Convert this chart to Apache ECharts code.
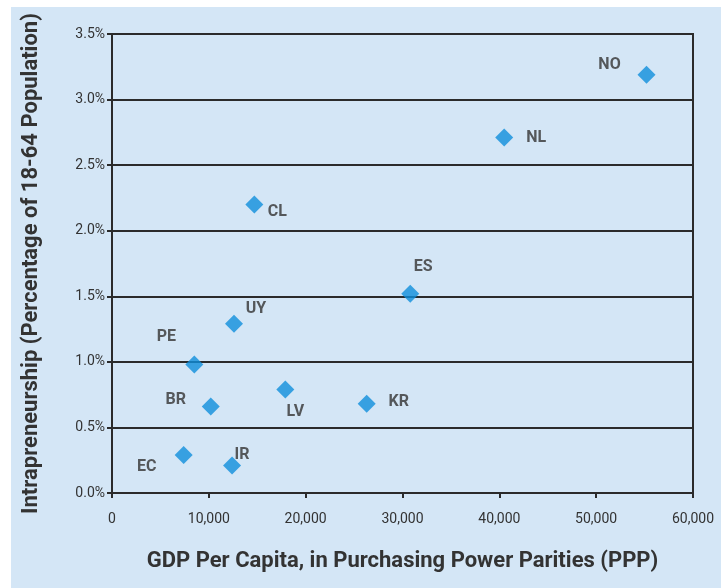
<!DOCTYPE html>
<html><head><meta charset="utf-8">
<script src="https://cdn.jsdelivr.net/npm/echarts@6/dist/echarts.min.js"></script>
<style>html,body{margin:0;padding:0;background:#fff}#bg{position:absolute;left:11px;top:7px;right:0;bottom:0;background:#d4e6f6}#c{position:absolute;left:0;top:0;width:721px;height:588px}</style>
</head><body><div id="bg"></div><div id="c"></div>
<script>
const countries = ['NO','NL','CL','ES','UY','PE','LV','KR','BR','EC','IR'];
const gdpPPP = [55200, 40500, 14700, 30800, 12600, 8500, 17900, 26300, 10200, 7400, 12400];
const intrapreneurship = [3.19, 2.71, 2.20, 1.52, 1.29, 0.98, 0.79, 0.68, 0.66, 0.29, 0.21];
const xTicks = [0, 10000, 20000, 30000, 40000, 50000, 60000];
const yTicks = [0, 0.5, 1.0, 1.5, 2.0, 2.5, 3.0, 3.5];

const labelOffsets = {NO:[-37,-10],NL:[32,0],CL:[23,8],ES:[13,-27],UY:[22,-15],PE:[-28,-27],LV:[10,23],KR:[32,-2],BR:[-35,-6],EC:[-37,12],IR:[10,-10]};
const font = 'Roboto, "Noto Sans", sans-serif';

const chart = echarts.init(document.getElementById('c'));
chart.setOption({
  backgroundColor: 'transparent',
  animation: false,
  grid: {left: 112, top: 34, right: 28, bottom: 95, show: true, borderColor: '#2b2b2b', borderWidth: 2},
  xAxis: {
    type: 'value', min: xTicks[0], max: xTicks[xTicks.length-1], interval: 10000,
    name: 'GDP Per Capita, in Purchasing Power Parities (PPP)', nameLocation: 'middle', nameGap: 57,
    nameTextStyle: {fontFamily: font, fontSize: 22, fontWeight: 'bold', color: '#333'},
    axisLine: {lineStyle: {color: '#2b2b2b', width: 2}},
    axisTick: {show: true, inside: false, length: 5, lineStyle: {color: '#2b2b2b', width: 2}},
    axisLabel: {fontFamily: font, fontSize: 14, color: '#333', margin: 19, formatter: v => v.toLocaleString('en-US')},
    splitLine: {show: false}
  },
  yAxis: {
    type: 'value', min: yTicks[0], max: yTicks[yTicks.length-1], interval: 0.5,
    name: 'Intrapreneurship (Percentage of 18-64 Population)', nameLocation: 'middle', nameGap: 70,
    nameTextStyle: {fontFamily: font, fontSize: 22, fontWeight: 'bold', color: '#333'},
    axisLine: {lineStyle: {color: '#2b2b2b', width: 2}},
    axisTick: {show: true, length: 5, lineStyle: {color: '#2b2b2b', width: 2}},
    axisLabel: {fontFamily: font, fontSize: 14, color: '#333', margin: 7, formatter: v => v.toFixed(1) + '%'},
    splitLine: {show: true, lineStyle: {color: '#2b2b2b', width: 2}}
  },
  series: [{
    type: 'scatter',
    symbol: 'diamond',
    symbolSize: 18,
    itemStyle: {color: '#0f8fdc'},
    data: countries.map((c, i) => ({
      value: [gdpPPP[i], intrapreneurship[i]], name: c,
      label: {show: true, position: 'inside', offset: labelOffsets[c], formatter: c,
        fontFamily: font, fontSize: 16, fontWeight: 'bold', color: '#333'}
    }))
  }]
});
</script></body></html>
